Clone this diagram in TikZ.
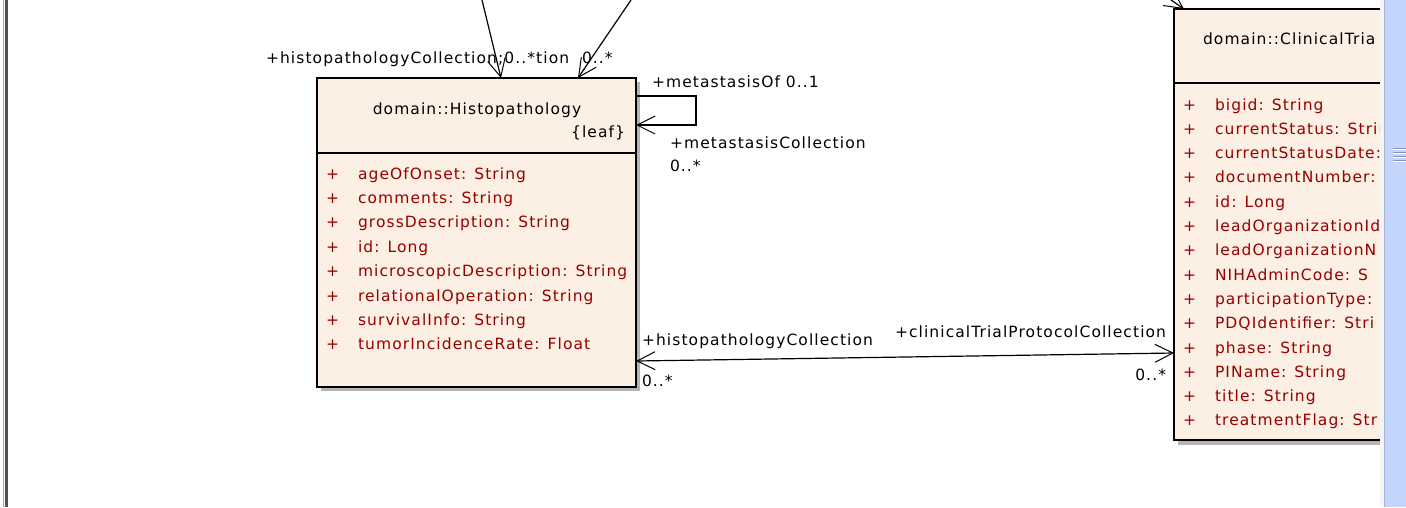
\documentclass[tikz,border=0pt]{standalone}
\usepackage{fontspec}
\usetikzlibrary{arrows.meta}
\newfontfamily\umlfont[LetterSpace=7]{DejaVu Sans}
\definecolor{boxfill}{RGB}{251,240,227}
\definecolor{attrred}{RGB}{150,0,0}
\definecolor{shadowgray}{RGB}{180,180,180}
\definecolor{scrollblue}{RGB}{195,213,252}
\definecolor{framegray}{RGB}{80,80,80}
\begin{document}
\begin{tikzpicture}[x=0.5mm,y=-0.5mm,
  txt/.style={font=\umlfont\fontsize{22.05}{26}\selectfont, inner sep=0pt, outer sep=0pt},
  lbl/.style={txt, text=black, anchor=base west},
  lble/.style={txt, text=black, anchor=base east},
  attr/.style={txt, text=attrred, anchor=base west},
  umlbox/.style={draw=black, fill=boxfill, line width=1mm, rectangle, inner sep=0pt, outer sep=0pt, anchor=north west},
  sep/.style={draw=black, line width=1mm},
  barb/.tip={Straight Barb[length=9mm,width=9mm,line width=0.5mm]},
  assoc/.style={draw=black, line width=0.6mm, -barb},
  assoc2/.style={draw=black, line width=0.6mm, barb-barb},
]
\useasboundingbox (0,0) rectangle (1406,507);
\fill[white] (0,0) rectangle (1406,507);

% left frame
\draw[black!35, line width=0.5mm] (3.5,0) -- (3.5,507);
\draw[framegray, line width=1.3mm] (6.5,0) -- (6.5,507);

% ---------- Histopathology ----------
\fill[shadowgray] (321,82) rectangle (640,391);
\node[umlbox, minimum width=159.5mm, minimum height=154.5mm] (hist) at (317,78) {};
\draw[sep] (hist.west |- 0,153) -- (hist.east |- 0,153);
\node[txt, anchor=base] (histtitle) at (477,114) {domain::Histopathology};
\node[txt, anchor=base east] (histleaf) at (625,137) {\{leaf\}};
\foreach \t [count=\i] in {ageOfOnset: String, comments: String, grossDescription: String, id: Long, microscopicDescription: String, relationalOperation: String, survivalInfo: String, tumorIncidenceRate: Float}{
  \node[attr] (hp\i) at (326,{179+24.4*(\i-1)}) {+};
  \node[attr] (ha\i) at (358,{179+24.4*(\i-1)}) {\t};
}

% ---------- ClinicalTrialProtocol (clipped by window) ----------
\begin{scope}
\clip (1140,0) rectangle (1380,507);
\fill[shadowgray] (1178,13) rectangle (1520,445);
\node[umlbox, minimum width=163mm, minimum height=215.5mm] (clin) at (1174,9) {};
\draw[sep] (clin.west |- 0,83) -- (clin.east |- 0,83);
\node[txt, anchor=base west] (clintitle) at (1203,44) {domain::ClinicalTria};
\foreach \t [count=\i] in {bigid: String, currentStatus: Strin, currentStatusDate:, documentNumber:, id: Long, leadOrganizationId, leadOrganizationN, NIHAdminCode: S, participationType:, PDQIdentifier: Stri, phase: String, PIName: String, title: String, treatmentFlag: Str}{
  \node[attr] (cp\i) at (1183,{110+24.3*(\i-1)}) {+};
  \node[attr] (ca\i) at (1215,{110+24.3*(\i-1)}) {\t};
}
\end{scope}

% ---------- connectors ----------
\coordinate (topA) at (482,0);
\coordinate (topB) at (631,0);
\coordinate (topC) at (1171,0);
\draw[assoc] (topA) -- (hist.north -| 501,0);
\draw[assoc] (topB) -- (hist.north -| 578,0);
\draw[assoc] (topC) -- (clin.north -| 1184,0);
\draw[assoc] (hist.east |- 0,96) -- (696,96) -- (696,125) -- (hist.east |- 0,125);
\draw[assoc2] (hist.east |- 0,361) -- (clin.west |- 0,353);

% ---------- labels ----------
\node[lbl] (lA) at (266,63) {+histopathologyCollection;0..*tion};
\node[lbl] (lB) at (582,63) {0..*};
\node[lbl] (lmo) at (652,87) {+metastasisOf 0..1};
\node[lbl] (lmc) at (670,148) {+metastasisCollection};
\node[lbl] (lmcm) at (670,171) {0..*};
\node[lbl] (lhc) at (642,345) {+histopathologyCollection};
\node[lbl] (lhcm) at (642,386) {0..*};
\node[lble] (lcc) at (1166,337) {+clinicalTrialProtocolCollection};
\node[lble] (lccm) at (1166,380) {0..*};

% ---------- scrollbar ----------
\fill[black!4] (1380,0) rectangle (1384,507);
\fill[scrollblue] (1384,0) rectangle (1406,507);
\draw[scrollblue!85!black, line width=0.4mm] (1384.5,0) -- (1384.5,507);
\foreach \gy in {148,152,156,160}{
  \draw[white, line width=0.5mm] (1393,\gy+1) -- (1406,\gy+1);
  \draw[scrollblue!70!black, line width=0.5mm] (1393,\gy) -- (1406,\gy);
}
\end{tikzpicture}
\end{document}
